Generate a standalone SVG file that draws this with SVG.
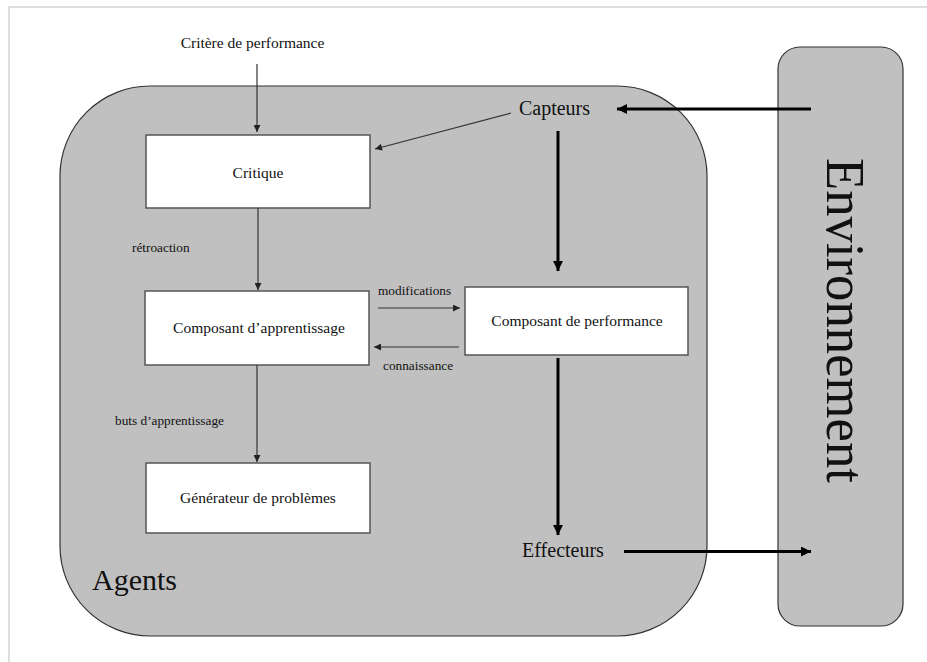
<svg xmlns="http://www.w3.org/2000/svg" width="927" height="662" viewBox="0 0 927 662">
  <defs>
    <marker id="ah" viewBox="0 0 10 10" refX="10" refY="5" markerWidth="8" markerHeight="7" markerUnits="userSpaceOnUse" orient="auto">
      <path d="M0,0 L10,5 L0,10 z" fill="#222"/>
    </marker>
    <marker id="ahb" viewBox="0 0 10 10" refX="10" refY="5" markerWidth="13" markerHeight="10" markerUnits="userSpaceOnUse" orient="auto">
      <path d="M0,0 L10,5 L0,10 z" fill="#000"/>
    </marker>
  </defs>
  <style>
    text { font-family: "Liberation Serif", "Times New Roman", serif; fill: #111; }
    .box { fill: #fff; stroke: #555; stroke-width: 1.5; }
    .panel { fill: #c0c0c0; stroke: #333; stroke-width: 1.2; }
    .thin { stroke: #333; stroke-width: 1.2; fill: none; marker-end: url(#ah); }
    .thick { stroke: #000; stroke-width: 3; fill: none; marker-end: url(#ahb); }
    .lbl { font-size: 15.5px; text-anchor: middle; }
    .small { font-size: 13.3px; }
    .big { font-size: 20px; text-anchor: middle; }
  </style>
  <rect width="927" height="662" fill="#fff"/>
  <path d="M9,662 V7 H927" fill="none" stroke="#d4d4d4" stroke-width="1.5"/>

  <g id="agents">
    <rect class="panel" x="60" y="86" width="647" height="550" rx="90" ry="90"/>
    <text x="92" y="590" font-size="30">Agents</text>
  </g>

  <g id="environnement">
    <rect class="panel" x="778" y="47" width="125" height="579" rx="22" ry="22"/>
    <text transform="translate(827,158) rotate(90)" font-size="54" textLength="325" lengthAdjust="spacingAndGlyphs">Environnement</text>
  </g>

  <g id="critere">
    <text class="lbl" x="252.5" y="48">Critère de performance</text>
  </g>

  <g id="critique">
    <rect class="box" x="146" y="135" width="224" height="73"/>
    <text class="lbl" x="258" y="178">Critique</text>
  </g>

  <g id="apprentissage">
    <rect class="box" x="145" y="291" width="224" height="74"/>
    <text class="lbl" x="259" y="333">Composant d’apprentissage</text>
  </g>

  <g id="performance">
    <rect class="box" x="465" y="287" width="223" height="68"/>
    <text class="lbl" x="577" y="326">Composant de performance</text>
  </g>

  <g id="generateur">
    <rect class="box" x="146" y="463" width="224" height="70"/>
    <text class="lbl" x="258" y="503">Générateur de problèmes</text>
  </g>

  <g id="capteurs">
    <text class="big" x="554.5" y="115">Capteurs</text>
  </g>

  <g id="effecteurs">
    <text class="big" x="563" y="557">Effecteurs</text>
  </g>

  <g id="connectors">
    <line class="thin" x1="257" y1="64" x2="257" y2="132"/>
    <line class="thin" x1="511" y1="113" x2="375" y2="149"/>
    <line class="thin" x1="258" y1="208" x2="258" y2="290"/>
    <line class="thin" x1="378" y1="308" x2="460" y2="308"/>
    <line class="thin" x1="459" y1="347" x2="374" y2="347"/>
    <line class="thin" x1="257" y1="365" x2="257" y2="462"/>
    <line class="thick" x1="811" y1="109" x2="617" y2="109"/>
    <line class="thick" x1="558" y1="131" x2="558" y2="271"/>
    <line class="thick" x1="558" y1="358" x2="558" y2="535"/>
    <line class="thick" x1="624" y1="551.5" x2="811" y2="551.5"/>
    <text class="small" x="132" y="252">rétroaction</text>
    <text class="small" x="378" y="295">modifications</text>
    <text class="small" x="383" y="370">connaissance</text>
    <text class="small" x="115" y="425">buts d’apprentissage</text>
  </g>
</svg>
